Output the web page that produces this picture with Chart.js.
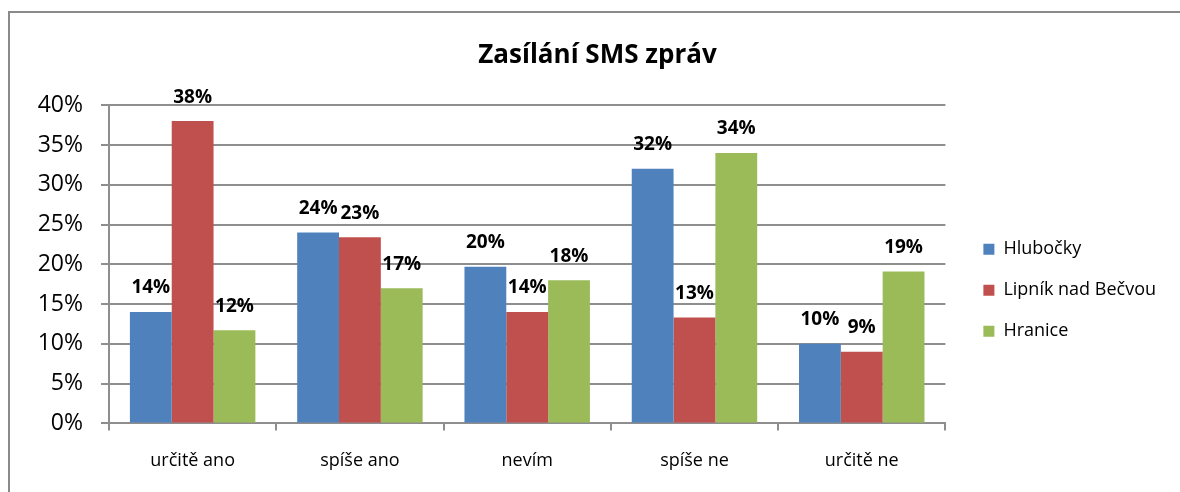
<!DOCTYPE html>
<html lang="cs">
<head>
    <meta charset="UTF-8">
    <title>Zasílání SMS zpráv</title>
    <script src="https://cdn.jsdelivr.net/npm/chart.js"></script>
    <style>
        html, body {
            margin: 0;
            padding: 0;
            background: #fff;
            overflow: hidden;
        }
        .chart-box {
            position: relative;
            width: 1180px;
            height: 492px;
        }
    </style>
</head>
<body>
    <div class="chart-box">
        <canvas id="smsChart"></canvas>
    </div>

    <script>
        const categories = ['určitě ano', 'spíše ano', 'nevím', 'spíše ne', 'určitě ne'];
        const hlubocky = [14.0, 24.0, 19.7, 32.0, 10.0];
        const lipnik = [38.0, 23.4, 14.0, 13.3, 9.0];
        const hranice = [11.7, 17.0, 18.0, 34.0, 19.1];
        const yTicks = [0, 5, 10, 15, 20, 25, 30, 35, 40];

        const gridGrey = '#8e8e8e';
        const fontFamily = "'Open Sans', 'DejaVu Sans', sans-serif";

        // frame round the whole chart, open on the right and bottom like the original
        const framePlugin = {
            id: 'frame',
            beforeDraw(chart) {
                const ctx = chart.ctx;
                ctx.save();
                ctx.strokeStyle = '#8a8a8a';
                ctx.lineWidth = 2;
                ctx.strokeRect(9, 12, 1200, 500);
                ctx.restore();
            }
        };

        // nudge legend and title to where the original has them
        const boxShift = {
            id: 'boxShift',
            afterLayout(chart) {
                const lg = chart.legend;
                if (lg) {
                    lg.left += 15;
                    lg.right += 15;
                    lg.top += 26;
                    lg.bottom += 26;
                }
                const tb = chart.titleBlock;
                if (tb) {
                    tb.left += 22;
                    tb.right += 22;
                }
            }
        };

        // percent labels above every bar
        const valueLabels = {
            id: 'valueLabels',
            afterDatasetsDraw(chart) {
                const ctx = chart.ctx;
                ctx.save();
                ctx.font = "bold 19px " + fontFamily;
                ctx.fillStyle = '#000';
                ctx.textAlign = 'center';
                ctx.textBaseline = 'middle';
                chart.data.datasets.forEach((ds, i) => {
                    chart.getDatasetMeta(i).data.forEach((bar, j) => {
                        ctx.fillText(Math.round(ds.data[j]) + '%', bar.x, bar.y - 24);
                    });
                });
                ctx.restore();
            }
        };

        new Chart(document.getElementById('smsChart'), {
            type: 'bar',
            data: {
                labels: categories,
                datasets: [
                    { label: 'Hlubočky', data: hlubocky, backgroundColor: '#4f81bd' },
                    { label: 'Lipník nad Bečvou', data: lipnik, backgroundColor: '#c0504d' },
                    { label: 'Hranice', data: hranice, backgroundColor: '#9bbb59' }
                ]
            },
            options: {
                responsive: true,
                maintainAspectRatio: false,
                animation: false,
                layout: {
                    padding: { top: 12, left: 0, right: 29, bottom: 0 }
                },
                datasets: {
                    bar: { categoryPercentage: 0.75, barPercentage: 1.0 }
                },
                plugins: {
                    title: {
                        display: true,
                        text: 'Zasílání SMS zpráv',
                        color: '#000',
                        font: { family: fontFamily, size: 26, weight: 'bold' },
                        padding: { top: 28, bottom: 34 }
                    },
                    legend: {
                        position: 'right',
                        fullSize: false,
                        labels: {
                            color: '#000',
                            boxWidth: 11,
                            boxHeight: 11,
                            padding: 23,
                            font: { family: fontFamily, size: 18 }
                        }
                    },
                    tooltip: { enabled: false }
                },
                scales: {
                    x: {
                        grid: {
                            offset: true,
                            drawOnChartArea: false,
                            drawTicks: true,
                            tickLength: 7,
                            color: gridGrey,
                            lineWidth: 2
                        },
                        border: { color: gridGrey, width: 2 },
                        ticks: {
                            color: '#000',
                            padding: 20,
                            font: { family: fontFamily, size: 18 }
                        }
                    },
                    y: {
                        min: 0,
                        max: 40,
                        afterFit(scale) { scale.width = 109; },
                        afterBuildTicks(scale) {
                            scale.ticks = yTicks.map(v => ({ value: v }));
                        },
                        grid: {
                            color: gridGrey,
                            lineWidth: 2,
                            tickLength: 8
                        },
                        border: { color: gridGrey, width: 2 },
                        ticks: {
                            color: '#000',
                            padding: 18,
                            font: { family: fontFamily, size: 23 },
                            callback: v => v + '%'
                        }
                    }
                }
            },
            plugins: [framePlugin, boxShift, valueLabels]
        });
    </script>
</body>
</html>
